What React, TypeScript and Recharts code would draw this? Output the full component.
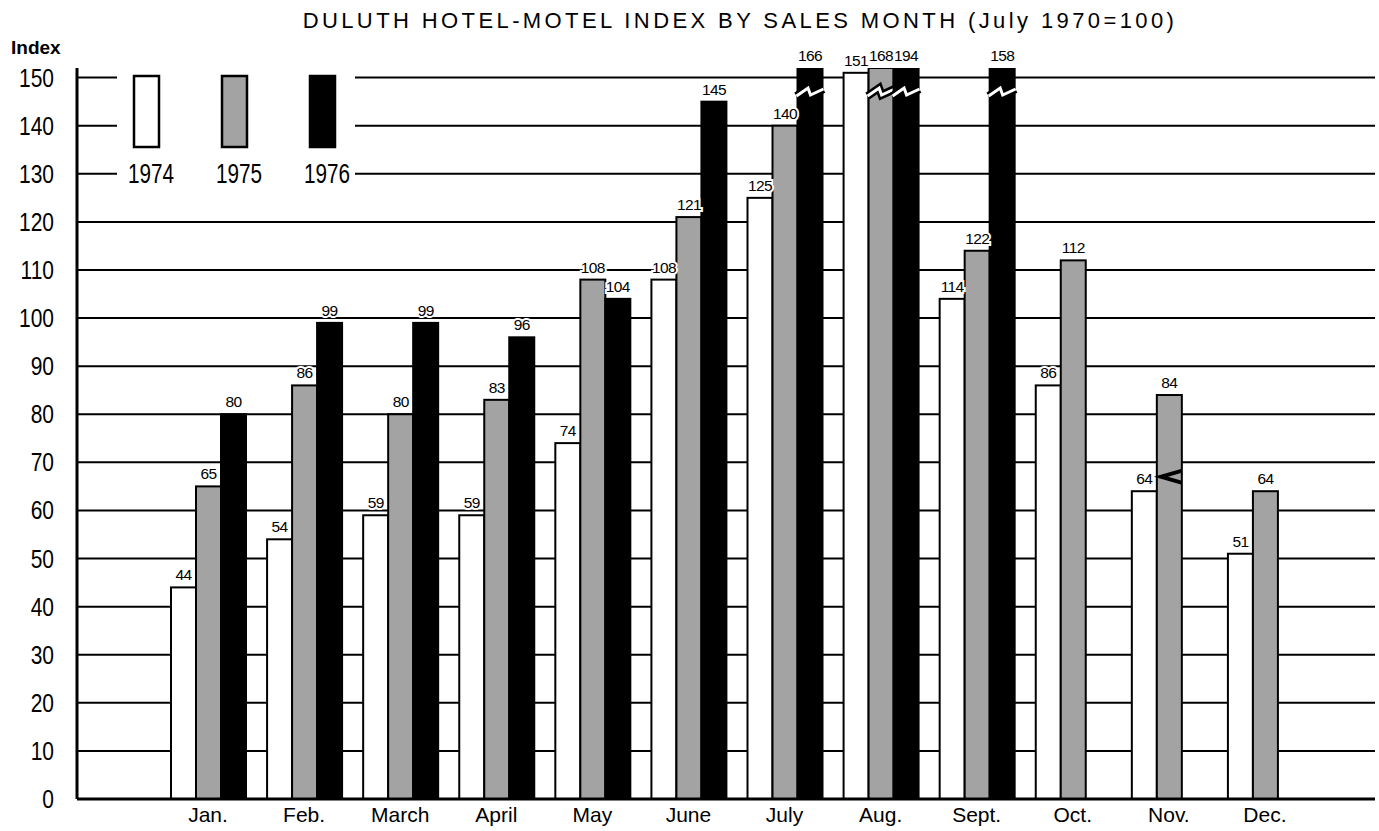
import React from "react";
import { BarChart, Bar, XAxis, YAxis, CartesianGrid, LabelList } from "recharts";

const months = ["Jan.", "Feb.", "March", "April", "May", "June", "July", "Aug.", "Sept.", "Oct.", "Nov.", "Dec."];
// bar heights as drawn
const v1974 = [44, 54, 59, 59, 74, 108, 125, 151, 104, 86, 64, 51];
const v1975 = [65, 86, 80, 83, 108, 121, 140, 168, 114, 112, 84, 64];
const v1976 = [80, 99, 99, 96, 104, 145, 166, 194, 158, null, null, null];
// numbers printed above the bars (Sept. differs from the drawn bar)
const printed1974 = [44, 54, 59, 59, 74, 108, 125, 151, 114, 86, 64, 51];
const printed1975 = [65, 86, 80, 83, 108, 121, 140, 168, 122, 112, 84, 64];
const printed1976 = v1976;
// odd break mark on the Nov. 1975 bar
const mark1975 = [null, null, null, null, null, null, null, null, null, null, 67, null];

const years = ["1974", "1975", "1976"];
const yTicks = [0, 10, 20, 30, 40, 50, 60, 70, 80, 90, 100, 110, 120, 130, 140, 150];
const Y_MAX = 152;

const W = 1379;
const H = 831;
const PLOT_TOP = 68;
const WHITE = "#ffffff";
const GRAY = "#a3a3a3";
const BLACK = "#000000";
const fills = [WHITE, GRAY, BLACK];

const SANS = "'Liberation Sans', Arial, sans-serif";

const data = months.map((m, i) => ({
  month: m,
  y1974: v1974[i],
  y1975: v1975[i],
  y1976: v1976[i],
}));

function makeShape(values: (number | null)[], marks?: (number | null)[]) {
  return (p: any) => {
    const { x, y, width, height, fill, index } = p;
    const v = values[index];
    if (v == null) return null;
    const bottom = y + height;
    const top = Math.max(y, PLOT_TOP);
    const clipped = v > Y_MAX;
    const yb = PLOT_TOP + 24;
    const mk = marks ? marks[index] : null;
    const ym = mk != null ? bottom - (bottom - y) * (mk / v) : 0;
    const zig = `${x - 1},${yb + 4} ${x + width * 0.42},${yb - 4} ${x + width * 0.52},${yb + 3} ${x + width + 1},${yb - 3}`;
    return (
      <g>
        <rect x={x} y={top} width={width} height={bottom - top} fill={fill} stroke={BLACK} strokeWidth={2} />
        {clipped && (
          <g>
            <polyline points={zig} fill="none" stroke={BLACK} strokeWidth={8} />
            <polyline points={zig} fill="none" stroke={WHITE} strokeWidth={3} />
          </g>
        )}
        {mk != null && (
          <polygon
            points={`${x - 3},${ym} ${x + width},${ym - 8} ${x + width},${ym - 4} ${x + width * 0.45},${ym} ${x + width},${ym + 4} ${x + width},${ym + 8}`}
            fill={BLACK}
          />
        )}
      </g>
    );
  };
}

function makeLabel(labels: (number | null)[]) {
  return (p: any) => {
    const vb = p.viewBox || p;
    const x = vb.x ?? p.x;
    const y = vb.y ?? p.y;
    const width = vb.width ?? p.width;
    const lab = labels[p.index];
    if (lab == null || x == null) return null;
    const top = Math.max(y, PLOT_TOP);
    return (
      <text
        x={x + width / 2}
        y={top - 7}
        textAnchor="middle"
        fontFamily={SANS}
        fontSize={15.5}
        letterSpacing={-0.6}
        fill={BLACK}
        stroke={WHITE}
        strokeWidth={4}
        paintOrder="stroke"
      >
        {lab}
      </text>
    );
  };
}

// tall, narrow figures like the original typeface
function YTick(p: any) {
  const { x, y, payload } = p;
  return (
    <text transform={`translate(${x},${y + 9}) scale(0.84,1)`} textAnchor="end" fontFamily={SANS} fontSize={25} fill={BLACK}>
      {payload.value}
    </text>
  );
}

function Legend() {
  return (
    <g>
      <rect x={117} y={62} width={238} height={128} fill={WHITE} />
      {years.map((yr, i) => {
        const cx = 146 + i * 88;
        return (
          <g key={yr}>
            <rect x={cx - 12} y={76} width={25} height={71} fill={fills[i]} stroke={BLACK} strokeWidth={2.5} />
            <text
              transform={`translate(${cx + 5},183) scale(0.74,1)`}
              textAnchor="middle"
              fontFamily={SANS}
              fontSize={28}
              fill={BLACK}
            >
              {yr}
            </text>
          </g>
        );
      })}
    </g>
  );
}

export default function App() {
  return (
    <div style={{ position: "absolute", left: 0, top: 0, width: W, height: H, background: WHITE }}>
      <BarChart
        width={W}
        height={H}
        data={data}
        margin={{ top: PLOT_TOP, right: 4, bottom: 0, left: 0 }}
        barSize={25}
        barGap={0}
      >
        <CartesianGrid vertical={false} stroke={BLACK} strokeWidth={2} horizontalValues={yTicks} />
        <XAxis
          dataKey="month"
          height={32}
          padding={{ left: 83, right: 62 }}
          tickLine={false}
          tickSize={0}
          tickMargin={8}
          axisLine={{ stroke: BLACK, strokeWidth: 3 }}
          tick={{ fontSize: 21, fill: BLACK, fontFamily: SANS }}
          interval={0}
        />
        <YAxis
          domain={[0, Y_MAX]}
          allowDataOverflow
          ticks={yTicks}
          interval={0}
          width={77}
          tickLine={false}
          tickSize={0}
          tickMargin={23}
          axisLine={{ stroke: BLACK, strokeWidth: 3 }}
          tick={<YTick />}
        />
        <Bar dataKey="y1974" fill={WHITE} isAnimationActive={false} shape={makeShape(v1974)}>
          <LabelList dataKey="y1974" content={makeLabel(printed1974)} />
        </Bar>
        <Bar dataKey="y1975" fill={GRAY} isAnimationActive={false} shape={makeShape(v1975, mark1975)}>
          <LabelList dataKey="y1975" content={makeLabel(printed1975)} />
        </Bar>
        <Bar dataKey="y1976" fill={BLACK} isAnimationActive={false} shape={makeShape(v1976)}>
          <LabelList dataKey="y1976" content={makeLabel(printed1976)} />
        </Bar>
      </BarChart>
      <svg
        width={W}
        height={H}
        style={{ position: "absolute", left: 0, top: 0, pointerEvents: "none" }}
      >
        <text x={740} y={28} textAnchor="middle" fontFamily={SANS} fontSize={22} letterSpacing={3.4} fill={BLACK}>
          DULUTH HOTEL-MOTEL INDEX BY SALES MONTH (July 1970=100)
        </text>
        <text x={11} y={54} fontFamily={SANS} fontSize={19} fontWeight="bold" fill={BLACK}>
          Index
        </text>
        <Legend />
      </svg>
    </div>
  );
}
